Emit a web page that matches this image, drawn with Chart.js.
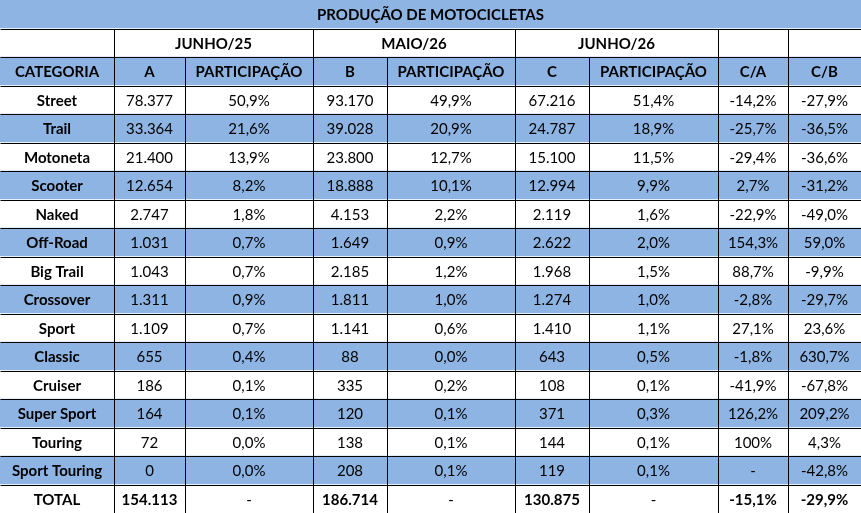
<!DOCTYPE html>
<html><head><meta charset="utf-8">
<script src="https://cdn.jsdelivr.net/npm/chart.js@4"></script>
<style>body{margin:0;background:#fff}canvas{display:block}</style>
</head><body>
<canvas id="c" width="861" height="513"></canvas>
<script>
const title = 'PRODUÇÃO DE MOTOCICLETAS';
const periods = ['JUNHO/25', 'MAIO/26', 'JUNHO/26'];
const headers = ['CATEGORIA', 'A', 'PARTICIPAÇÃO', 'B', 'PARTICIPAÇÃO', 'C', 'PARTICIPAÇÃO', 'C/A', 'C/B'];
const categories = ['Street','Trail','Motoneta','Scooter','Naked','Off-Road','Big Trail','Crossover','Sport','Classic','Cruiser','Super Sport','Touring','Sport Touring','TOTAL'];
const valA = ['78.377','33.364','21.400','12.654','2.747','1.031','1.043','1.311','1.109','655','186','164','72','0','154.113'];
const shareA = ['50,9%','21,6%','13,9%','8,2%','1,8%','0,7%','0,7%','0,9%','0,7%','0,4%','0,1%','0,1%','0,0%','0,0%','-'];
const valB = ['93.170','39.028','23.800','18.888','4.153','1.649','2.185','1.811','1.141','88','335','120','138','208','186.714'];
const shareB = ['49,9%','20,9%','12,7%','10,1%','2,2%','0,9%','1,2%','1,0%','0,6%','0,0%','0,2%','0,1%','0,1%','0,1%','-'];
const valC = ['67.216','24.787','15.100','12.994','2.119','2.622','1.968','1.274','1.410','643','108','371','144','119','130.875'];
const shareC = ['51,4%','18,9%','11,5%','9,9%','1,6%','2,0%','1,5%','1,0%','1,1%','0,5%','0,1%','0,3%','0,1%','0,1%','-'];
const ratioCA = ['-14,2%','-25,7%','-29,4%','2,7%','-22,9%','154,3%','88,7%','-2,8%','27,1%','-1,8%','-41,9%','126,2%','100%','-','-15,1%'];
const ratioCB = ['-27,9%','-36,5%','-36,6%','-31,2%','-49,0%','59,0%','-9,9%','-29,7%','23,6%','630,7%','-67,8%','209,2%','4,3%','-42,8%','-29,9%'];
const colEdges = [0, 114, 185, 313, 387, 515, 589, 718, 788, 861];

const BLUE = '#8db4e2';
const nRows = 3 + categories.length;
const rowLabels = Array.from({length: nRows}, (_, i) => 'r' + i);
const rowColors = rowLabels.map((_, i) => {
  if (i === 0 || i === 2) return BLUE;
  if (i < 3) return '#ffffff';
  const d = i - 3;
  return (d % 2 === 1 && d < categories.length - 1) ? BLUE : '#ffffff';
});

const tablePlugin = {
  id: 'table',
  afterDatasetsDraw(chart) {
    const {ctx, scales: {x}} = chart;
    const bars = chart.getDatasetMeta(0).data;
    const px = v => x.getPixelForValue(v);
    const top = i => bars[i].y - bars[i].height / 2;
    const bot = i => bars[i].y + bars[i].height / 2;
    ctx.save();
    ctx.strokeStyle = '#000';
    ctx.lineWidth = 1;
    const line = (x1, y1, x2, y2) => { ctx.beginPath(); ctx.moveTo(Math.round(x1)+0.5, Math.round(y1)+0.5); ctx.lineTo(Math.round(x2)+0.5, Math.round(y2)+0.5); ctx.stroke(); };
    // horizontal lines
    for (let i = 1; i < nRows; i++) line(px(0), top(i), px(861), top(i));
    // vertical lines
    for (let c = 1; c < colEdges.length - 1; c++) {
      const merged = [2, 4, 6].includes(c);
      line(px(colEdges[c]), merged ? top(2) : top(1), px(colEdges[c]), bot(nRows - 1));
    }
    ctx.fillStyle = '#000';
    ctx.textBaseline = 'middle';
    ctx.textAlign = 'center';
    const text = (s, c0, c1, i, bold) => {
      ctx.font = (bold ? 'bold ' : '') + '15px Lato, "Liberation Sans", sans-serif';
      ctx.fillText(s, (px(colEdges[c0]) + px(colEdges[c1])) / 2, bars[i].y + 1);
    };
    text(title, 0, 9, 0, true);
    periods.forEach((p, k) => text(p, 1 + 2 * k, 3 + 2 * k, 1, true));
    headers.forEach((h, c) => text(h, c, c + 1, 2, true));
    categories.forEach((cat, r) => {
      const i = 3 + r;
      const tot = r === categories.length - 1;
      const cells = [cat, valA[r], shareA[r], valB[r], shareB[r], valC[r], shareC[r], ratioCA[r], ratioCB[r]];
      cells.forEach((s, c) => text(s, c, c + 1, i, c === 0 || (tot && s !== '-')));
    });
    ctx.restore();
  }
};

new Chart(document.getElementById('c'), {
  type: 'bar',
  data: {
    labels: rowLabels,
    datasets: [{
      data: rowLabels.map(() => [0, 861]),
      backgroundColor: rowColors,
      borderWidth: 0,
      categoryPercentage: 1,
      barPercentage: 1
    }]
  },
  options: {
    indexAxis: 'y',
    responsive: false,
    animation: false,
    layout: { padding: 0 },
    plugins: { legend: { display: false }, tooltip: { enabled: false } },
    scales: {
      x: { display: false, min: 0, max: 861 },
      y: { display: false }
    }
  },
  plugins: [tablePlugin]
});
</script>
</body></html>
